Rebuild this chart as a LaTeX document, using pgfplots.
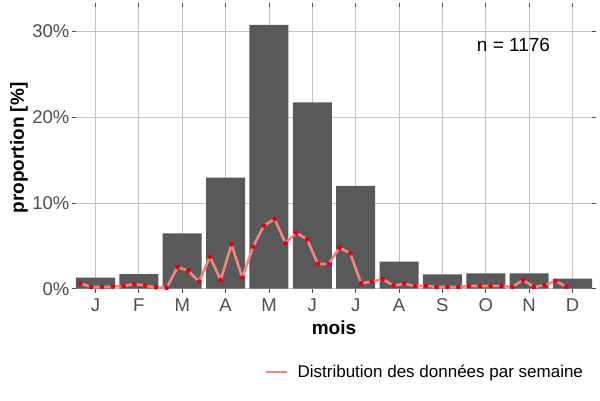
\documentclass[border=0pt]{standalone}
\usepackage{pgfplots}
\pgfplotsset{compat=1.18}
\usepackage{fontspec}
\setmainfont{Liberation Sans}
\definecolor{barcol}{HTML}{595959}
\definecolor{gridcol}{HTML}{C4C4C4}
\definecolor{tickcol}{HTML}{4D4D4D}
\definecolor{linecol}{HTML}{F4857E}
\definecolor{ptcol}{HTML}{E3000F}
\pgfplotstableread{
x y
1 1.28
2 1.71
3 6.46
4 12.95
5 30.76
6 21.74
7 11.98
8 3.15
9 1.68
10 1.79
11 1.79
12 1.17
}\monthly
\pgfplotstableread{
x y
0.650 0.63
0.899 0.20
1.148 0.20
1.397 0.25
1.646 0.31
1.895 0.55
2.144 0.35
2.393 0.16
2.642 0.10
2.891 2.53
3.140 2.10
3.389 0.82
3.638 3.73
3.887 1.01
4.136 5.18
4.385 1.28
4.634 4.90
4.883 7.35
5.132 8.13
5.381 5.30
5.630 6.53
5.879 5.76
6.128 2.88
6.377 2.88
6.626 4.78
6.875 4.13
7.124 0.63
7.373 0.82
7.622 1.13
7.871 0.35
8.120 0.58
8.369 0.31
8.618 0.35
8.867 0.20
9.116 0.20
9.365 0.20
9.614 0.31
9.863 0.31
10.112 0.31
10.361 0.35
10.610 0.20
10.859 1.01
11.108 0.20
11.357 0.40
11.606 0.90
11.855 0.23
}\weekly
\begin{document}
\begin{tikzpicture}[x=1pt,y=1pt]
\begin{axis}[
  at={(76pt,111.3pt)}, anchor=south west,
  scale only axis, width=516pt, height=281.4pt,
  xmin=0.55, xmax=12.45, ymin=0, ymax=32.82,
  clip=false,
  axis line style={draw=none},
  xtick={1,...,12},
  xticklabels={J,F,M,A,M,J,J,A,S,O,N,D},
  ytick={0,10,20,30},
  yticklabels={0\%,10\%,20\%,30\%},
  tick align=outside,
  major tick length=4pt,
  tick style={color=tickcol, line width=0.8pt},
  ticklabel style={font=\fontsize{18.5}{20}\selectfont, text=tickcol},
  xticklabel style={anchor=north, inner sep=0pt, yshift=-5.5pt},
  yticklabel style={anchor=east, inner sep=0pt, xshift=-2.5pt},
  grid=major,
  major grid style={color=gridcol, line width=0.85pt},
  xlabel={\textbf{mois}},
  ylabel={\textbf{proportion [\%]}},
  label style={font=\fontsize{19}{21}\selectfont},
  xlabel style={at={(axis description cs:0.5,-0.1645)}, anchor=base, inner sep=0pt},
  ylabel style={at={(axis description cs:-0.1105,0.5)}, anchor=center, inner sep=0pt},
  legend style={at={(axis description cs:0.3663,-0.296)}, anchor=west,
    draw=none, fill=none, font=\fontsize{17}{19}\selectfont,
    inner sep=0pt, outer sep=0pt},
  legend image code/.code={\draw[#1] (0pt,0pt) -- (21pt,0pt); \path (28pt,0pt);},
]
\addplot[ybar, bar width=0.9, bar shift=0pt, fill=barcol, draw=none, forget plot] table[x=x,y=y]{\monthly};
\addplot[color=linecol, line width=2.6pt, line join=round] table[x=x,y=y]{\weekly};
\addlegendentry{Distribution des données par semaine}
\addplot[only marks, mark=*, mark size=2.1pt, color=ptcol, forget plot] table[x=x,y=y]{\weekly};
\node[anchor=base, font=\fontsize{19}{21}\selectfont, inner sep=0pt] at (axis cs:10.64,27.64) {n = 1176};
\end{axis}
\pgfresetboundingbox
\path (0,0) rectangle (600pt,400pt);
\end{tikzpicture}
\end{document}
